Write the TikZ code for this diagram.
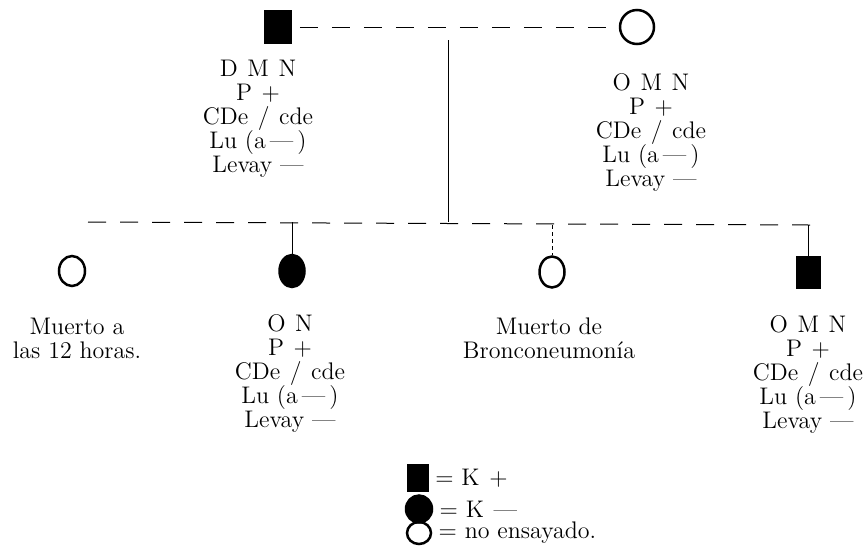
\documentclass[tikz,border=0pt]{standalone}
\usepackage{fontspec}
\usepackage{tikz}
\usetikzlibrary{positioning,shapes.geometric,calc}
\newcommand{\gap}{\hspace{0.4em}}
\tikzset{
  pmale/.style={draw,fill=black,minimum width=13.5pt,minimum height=16.5pt,inner sep=0pt},
  pfem/.style={ellipse,draw,line width=1.25pt,minimum width=17pt,minimum height=17pt,inner sep=0pt},
  pfemk/.style={pfem,fill=black},
  ptext/.style={align=center,inner sep=0pt,font=\fontsize{12}{12}\selectfont},
  pline/.style={line width=0.5pt,dash pattern=on 9pt off 7pt},
  pdrop/.style={line width=0.5pt},
  pdot/.style={line width=0.5pt,dash pattern=on 2pt off 1.5pt},
}

\begin{document}
\begin{tikzpicture}[x=0.5pt,y=-0.5pt]
\useasboundingbox (0,0) rectangle (865,547);
% parents
\node[pmale] (fa) at (278,27) {};
\node[pfem] (mo) at (637,27) {};
\draw[pline,shorten <=4pt] (fa.east) -- (mo.west);
\node[ptext] (fat) at (258,119) {D\gap M\gap N\\P\gap +\\CDe\gap/\gap cde\\Lu (a\,—\,)\\Levay —};
\node[ptext] (mot) at (651,132) {O\gap M\gap N\\P\gap +\\CDe\gap/\gap cde\\Lu (a\,—\,)\\Levay —};
% line of descent and sibship
\coordinate (top) at (448,40);
\coordinate (sib) at (448,222);
\coordinate (sl) at (88,222);
\coordinate (sr) at (810,225);
\draw[pdrop] (top) -- (sib);
\draw[pline] (sl) -- (sr);
% children
\node[pfem,minimum width=13pt,minimum height=15pt] (ca) at (72,271) {};
\node[pfemk,minimum width=12.5pt,minimum height=16pt] (cb) at (292,271) {};
\node[pfem,minimum width=12.5pt,minimum height=15.5pt] (cc) at (552,272) {};
\node[pmale,minimum width=12pt,minimum height=16pt] (cd) at (808,272) {};
\draw[pdrop] (cb |- sl) -- (cb.north);
\draw[pdot] (cc |- sr) -- (cc.north);
\draw[pdrop] (cd |- sr) -- (cd.north);
\node[ptext] (cat) at (77,338) {Muerto a\\las \oldstylenums{12} horas.};
\node[ptext] (cbt) at (290,373) {O\gap N\\P\gap +\\CDe\gap/\gap cde\\Lu (a\,—\,)\\Levay —};
\node[ptext] (cct) at (549,338) {Muerto de\\Bronconeumonía};
\node[ptext] (cdt) at (808,374) {O\gap M\gap N\\P\gap +\\CDe\gap/\gap cde\\Lu (a\,—\,)\\Levay —};
% legend
\node[pmale,minimum width=10.5pt,minimum height=13.5pt] (lk) at (418,478) {};
\node[pfemk,minimum width=13pt,minimum height=13.5pt] (lm) at (419,509) {};
\node[pfem,minimum width=12pt,minimum height=11pt] (ln) at (419,533) {};
\node[ptext,right=3pt of lk] (lkt) {= K\gap +};
\node[ptext,right=3pt of lm] (lmt) {= K\gap —};
\node[ptext,right=3pt of ln] (lnt) {= no ensayado.};
\end{tikzpicture}
\end{document}
